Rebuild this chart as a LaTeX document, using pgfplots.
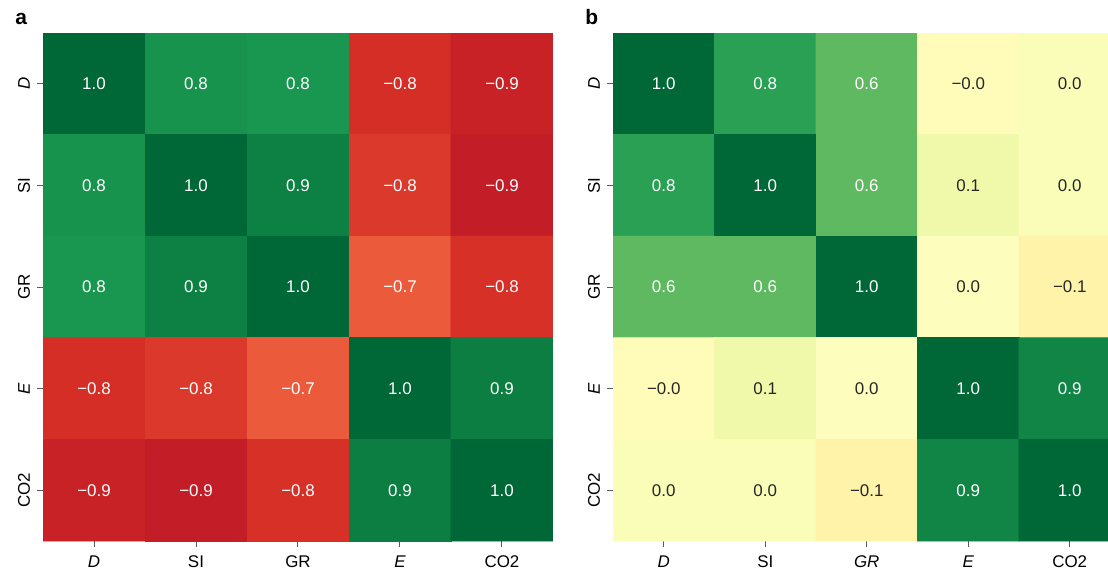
\documentclass[border=0pt]{standalone}
\usepackage{fontspec}
\setmainfont{Liberation Sans}
\usepackage{pgfplots}
\usepackage{pgfplotstable}
\pgfplotsset{compat=1.18}
\pgfplotsset{colormap={RdYlGn}{rgb255=(165,0,38) rgb255=(215,48,39) rgb255=(244,109,67) rgb255=(253,174,97) rgb255=(254,224,139) rgb255=(255,255,191) rgb255=(217,239,139) rgb255=(166,217,106) rgb255=(102,189,99) rgb255=(26,152,80) rgb255=(0,104,55)}}
\definecolor{darktxt}{RGB}{38,38,38}
\definecolor{tickc}{RGB}{90,90,90}

\pgfplotstableread{
x y c
0 0 1.00
1 0 0.82
2 0 0.81
3 0 -0.81
4 0 -0.86
0 1 0.82
1 1 1.00
2 1 0.90
3 1 -0.77
4 1 -0.88
0 2 0.81
1 2 0.90
2 2 1.00
3 2 -0.66
4 2 -0.80
0 3 -0.81
1 3 -0.77
2 3 -0.66
3 3 1.00
4 3 0.91
0 4 -0.86
1 4 -0.88
2 4 -0.80
3 4 0.91
4 4 1.00
}\dataA

\pgfplotstableread{
x y t
0 0 1.0
1 0 0.8
2 0 0.8
3 0 −0.8
4 0 −0.9
0 1 0.8
1 1 1.0
2 1 0.9
3 1 −0.8
4 1 −0.9
0 2 0.8
1 2 0.9
2 2 1.0
3 2 −0.7
4 2 −0.8
0 3 −0.8
1 3 −0.8
2 3 −0.7
3 3 1.0
4 3 0.9
0 4 −0.9
1 4 −0.9
2 4 −0.8
3 4 0.9
4 4 1.0
}\labA

\pgfplotstableread{
x y c
0 0 1.00
1 0 0.76
2 0 0.62
3 0 -0.02
4 0 0.03
0 1 0.76
1 1 1.00
2 1 0.62
3 1 0.08
4 1 0.03
0 2 0.62
1 2 0.62
2 2 1.00
3 2 0.01
4 2 -0.08
0 3 -0.02
1 3 0.08
2 3 0.01
3 3 1.00
4 3 0.88
0 4 0.03
1 4 0.03
2 4 -0.08
3 4 0.88
4 4 1.00
}\dataB

\pgfplotstableread{
x y t
0 0 1.0
1 0 0.8
2 0 0.6
0 1 0.8
1 1 1.0
2 1 0.6
0 2 0.6
1 2 0.6
2 2 1.0
3 3 1.0
4 3 0.9
3 4 0.9
4 4 1.0
}\labBw

\pgfplotstableread{
x y t
3 0 −0.0
4 0 0.0
3 1 0.1
4 1 0.0
3 2 0.0
4 2 −0.1
0 3 −0.0
1 3 0.1
2 3 0.0
0 4 0.0
1 4 0.0
2 4 −0.1
}\labBd

\pgfplotsset{
  hm/.style={
    scale only axis,
    height=254bp,
    y dir=reverse,
    enlargelimits=false,
    ymin=-0.5, ymax=4.5,
    xtick={0,1,2,3,4}, ytick={0,1,2,3,4},
    axis line style={draw=none},
    tick align=outside,
    major tick length=3bp,
    tick style={tickc, line width=0.5pt},
    xtick pos=bottom, ytick pos=left,
    tick label style={font=\fontsize{8.5}{10}\selectfont, black},
    yticklabel style={rotate=90, anchor=south},
    xticklabel style={yshift=-1bp},
    colormap name=RdYlGn,
    point meta min=-1, point meta max=1,
  },
  lbl/.style={only marks, mark=none, nodes near coords, point meta=explicit symbolic,
    every node near coord/.style={anchor=center, font=\fontsize{8.5}{10}\selectfont, #1}},
}

\begin{document}
\begin{tikzpicture}
\useasboundingbox (0,0) rectangle (554bp,285.5bp);
\begin{axis}[hm, at={(21.5bp,15bp)}, anchor=south west, width=255bp,
  xmin=-0.5, xmax=4.5,
  xticklabels={\textit{D}, SI, GR, \textit{E}, CO2},
  yticklabels={\textit{D}, SI, GR, \textit{E}, CO2}]
\addplot[matrix plot*, mesh/cols=5, point meta=explicit] table[meta=c] {\dataA};
\addplot[lbl=white] table[meta=t] {\labA};
\end{axis}
\begin{axis}[hm, at={(306.5bp,15bp)}, anchor=south west, width=247.5bp,
  xmin=-0.5, xmax=4.377,
  xticklabels={\textit{D}, SI, \textit{GR}, \textit{E}, CO2},
  yticklabels={\textit{D}, SI, GR, \textit{E}, CO2}]
\addplot[matrix plot*, mesh/cols=5, point meta=explicit] table[meta=c] {\dataB};
\addplot[lbl=white] table[meta=t] {\labBw};
\addplot[lbl=darktxt] table[meta=t] {\labBd};
\end{axis}
\node[font=\bfseries\fontsize{10.5}{12}\selectfont, anchor=base west, inner sep=0pt] at (7.5bp,273bp) {a};
\node[font=\bfseries\fontsize{10.5}{12}\selectfont, anchor=base west, inner sep=0pt] at (292.5bp,273bp) {b};
\end{tikzpicture}
\end{document}
